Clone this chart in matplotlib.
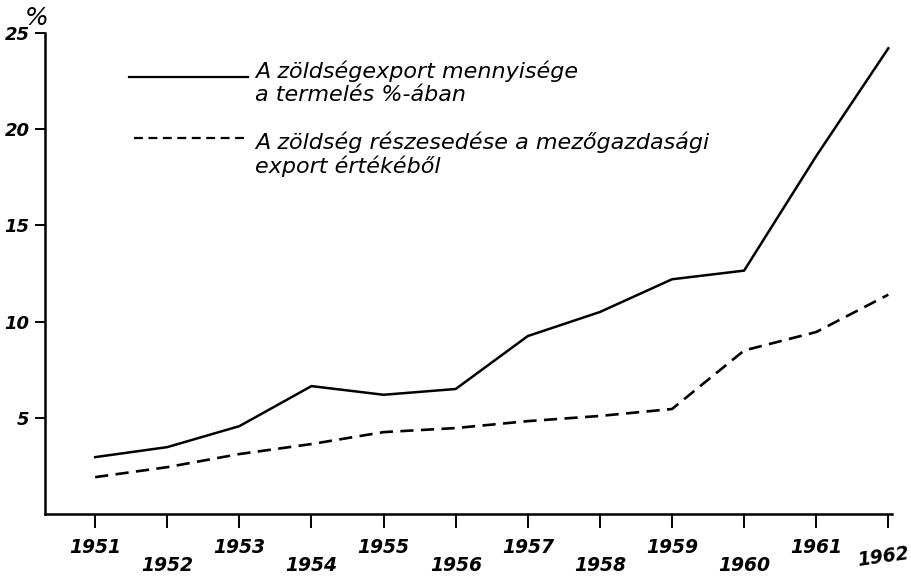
import matplotlib
matplotlib.use("Agg")
import matplotlib.pyplot as plt
from matplotlib.transforms import blended_transform_factory

# years on the x axis
years = [1951, 1952, 1953, 1954, 1955, 1956, 1957, 1958, 1959, 1960, 1961, 1962]
# vegetable export volume as % of production
export_volume = [2.96, 3.48, 4.57, 6.65, 6.2, 6.5, 9.25, 10.5, 12.2, 12.65, 18.6, 24.2]
# vegetable share of agricultural export value
export_share = [1.92, 2.44, 3.12, 3.64, 4.26, 4.47, 4.83, 5.1, 5.46, 8.5, 9.46, 11.4]

y_ticks = [5, 10, 15, 20, 25]
label1 = "A zöldségexport mennyisége\na termelés %-ában"
label2 = "A zöldség részesedése a mezőgazdasági\nexport értékéből"

plt.rcParams['font.family'] = ['DejaVu Sans']

fig = plt.figure(figsize=(9.12, 5.77), dpi=100)
ax = fig.add_axes([0.049, 0.109, 0.929, 0.834])

ax.plot(years, export_volume, c='black', lw=1.8)
ax.plot(years, export_share, c='black', lw=1.9, ls=(0, (5, 2.8)))

ax.set_xlim(1950.3, 1962.05)
ax.set_ylim(0, 25)

for s in ['top', 'right']:
    ax.spines[s].set_visible(False)
for s in ['left', 'bottom']:
    ax.spines[s].set_linewidth(1.8)

ax.set_yticks(y_ticks)
ax.set_yticklabels([str(t) for t in y_ticks], fontsize=13, style='italic',
                   fontweight='bold')
ax.tick_params(axis='y', length=7, width=1.4, pad=4)

ax.set_xticks(years)
ax.set_xticklabels([])
ax.tick_params(axis='x', length=10, width=1.4)

trans = blended_transform_factory(ax.transData, ax.transAxes)
for i, yr in enumerate(years):
    x = yr
    if yr == 1962:
        x, yy, rot = yr - 0.07, -0.089, 8
    elif i % 2 == 0:
        yy, rot = -0.069, 0
    else:
        yy, rot = -0.106, 0
    ax.text(x, yy, str(yr), transform=trans, ha='center', va='center',
            fontsize=13.5, style='italic', fontweight='bold', rotation=rot)

# percent sign above the y axis
ax.text(-0.01, 1.03, "%", transform=ax.transAxes, ha='center', va='center',
        fontsize=18, style='italic')

# hand drawn legend
ax.plot([0.100, 0.240], [0.908, 0.908], transform=ax.transAxes, c='black', lw=1.6)
ax.text(0.248, 0.896, label1, transform=ax.transAxes, ha='left', va='center',
        fontsize=16, style='italic', linespacing=1.15)
ax.plot([0.106, 0.236], [0.782, 0.782], transform=ax.transAxes, c='black',
        lw=1.6, ls=(0, (4, 2.5)))
ax.text(0.248, 0.748, label2, transform=ax.transAxes, ha='left', va='center',
        fontsize=16, style='italic', linespacing=1.15)

fig.savefig("out.png", dpi=100)
